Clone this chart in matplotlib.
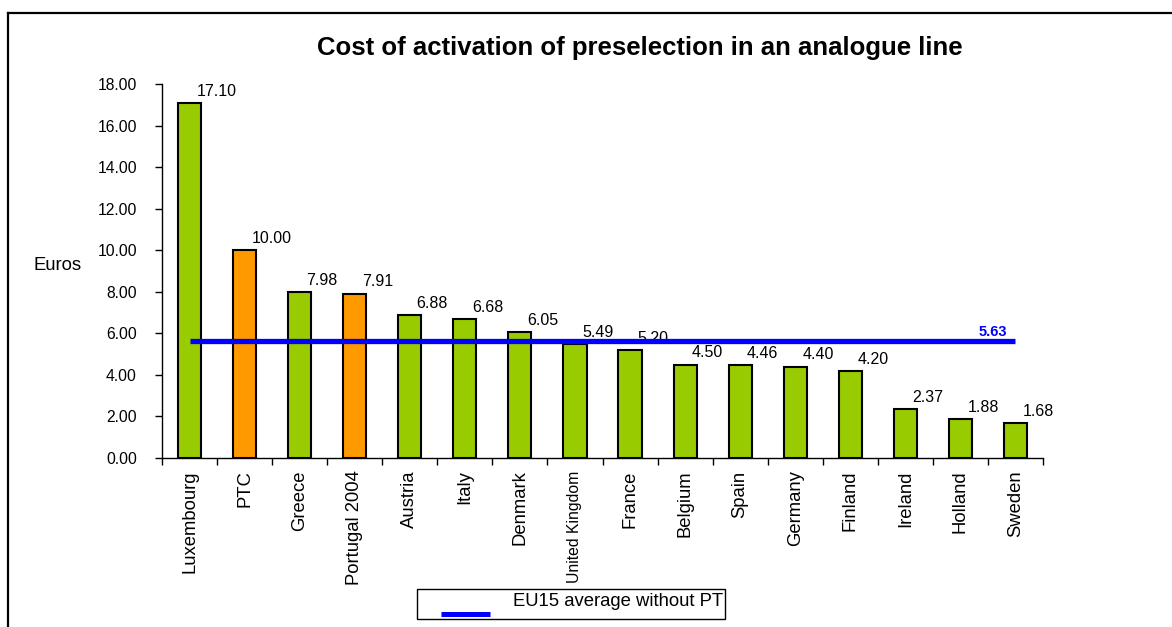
import numpy as np
import matplotlib.pyplot as plt
from matplotlib.lines import Line2D
from matplotlib.patches import Rectangle

plt.rcParams['font.family'] = ['Liberation Sans', 'DejaVu Sans']

countries = ["Luxembourg", "PTC", "Greece", "Portugal 2004", "Austria", "Italy",
             "Denmark", "United Kingdom", "France", "Belgium", "Spain", "Germany",
             "Finland", "Ireland", "Holland", "Sweden"]
cost = [17.10, 10.00, 7.98, 7.91, 6.88, 6.68, 6.05, 5.49, 5.20, 4.50, 4.46,
        4.40, 4.20, 2.37, 1.88, 1.68]
highlight = ["PTC", "Portugal 2004"]
eu_avg = 5.63

green = "#99CC00"
orange = "#FF9900"
blue = "#0000FF"

fig = plt.figure(figsize=(11.72, 6.27), dpi=100)
ax = fig.add_axes([162 / 1172, 1 - 458 / 627, 881 / 1172, 374 / 627])

x = np.arange(len(countries))
colors = [orange if c in highlight else green for c in countries]
ax.bar(x, cost, width=0.42, color=colors, edgecolor="black", linewidth=1.5, zorder=2)

for xi, v in zip(x, cost):
    ax.annotate(f"{v:.2f}", (xi, v), xytext=(5, 3), textcoords="offset points",
                ha="left", va="bottom", fontsize=11.5)

ax.plot(x, [eu_avg] * len(x), color=blue, linewidth=3.8, zorder=3,
        solid_capstyle="butt")
ax.text(x[-1] - 0.15, eu_avg + 0.08, f"{eu_avg:.2f}", color=blue, fontsize=10.5,
        fontweight="bold", ha="right", va="bottom", zorder=4)

ax.set_xlim(-0.5, len(x) - 0.5)
ax.set_ylim(0, 18)
ax.set_yticks(np.arange(0, 18.01, 2))
ax.set_yticklabels([f"{t:.2f}" for t in np.arange(0, 18.01, 2)], fontsize=11.3)
ax.tick_params(axis="y", direction="out", length=5, pad=13, width=1)

ax.set_xticks(x)
ax.set_xticklabels(countries, rotation=90, fontsize=13.3, va="top")
for lbl in ax.get_xticklabels():
    if lbl.get_text() == "United Kingdom":
        lbl.set_fontsize(11.3)
ax.tick_params(axis="x", which="major", length=0, pad=9)
ax.set_xticks(np.arange(-0.5, len(x), 1), minor=True)
ax.tick_params(axis="x", which="minor", direction="out", length=5, width=1)

for s in ["top", "right"]:
    ax.spines[s].set_visible(False)
ax.spines["left"].set_linewidth(1)
ax.spines["bottom"].set_linewidth(1)

fig.text(58 / 1172, 1 - 265 / 627, "Euros", fontsize=13.3, ha="center", va="center")
fig.text(640 / 1172, 1 - 48 / 627, "Cost of activation of preselection in an analogue line",
         fontsize=18.5, fontweight="bold", ha="center", va="center")

# outer frame (top and left edges visible)
fig.add_artist(Line2D([8 / 1172, 1.01], [1 - 13 / 627, 1 - 13 / 627],
                      transform=fig.transFigure, color="black", linewidth=1.6))
fig.add_artist(Line2D([8 / 1172, 8 / 1172], [1 - 13 / 627, -0.01],
                      transform=fig.transFigure, color="black", linewidth=1.6))

# legend box
fig.add_artist(Rectangle((417 / 1172, 1 - 619 / 627), 308 / 1172, 30 / 627,
                         transform=fig.transFigure, facecolor="white",
                         edgecolor="black", linewidth=1))
fig.add_artist(Line2D([441 / 1172, 490 / 1172], [1 - 614 / 627, 1 - 614 / 627],
                      transform=fig.transFigure, color=blue, linewidth=3.6,
                      solid_capstyle="butt"))
fig.text(513 / 1172, 1 - 602 / 627, "EU15 average without PT", fontsize=13.3,
         ha="left", va="center")

fig.savefig("out.png", dpi=100)
